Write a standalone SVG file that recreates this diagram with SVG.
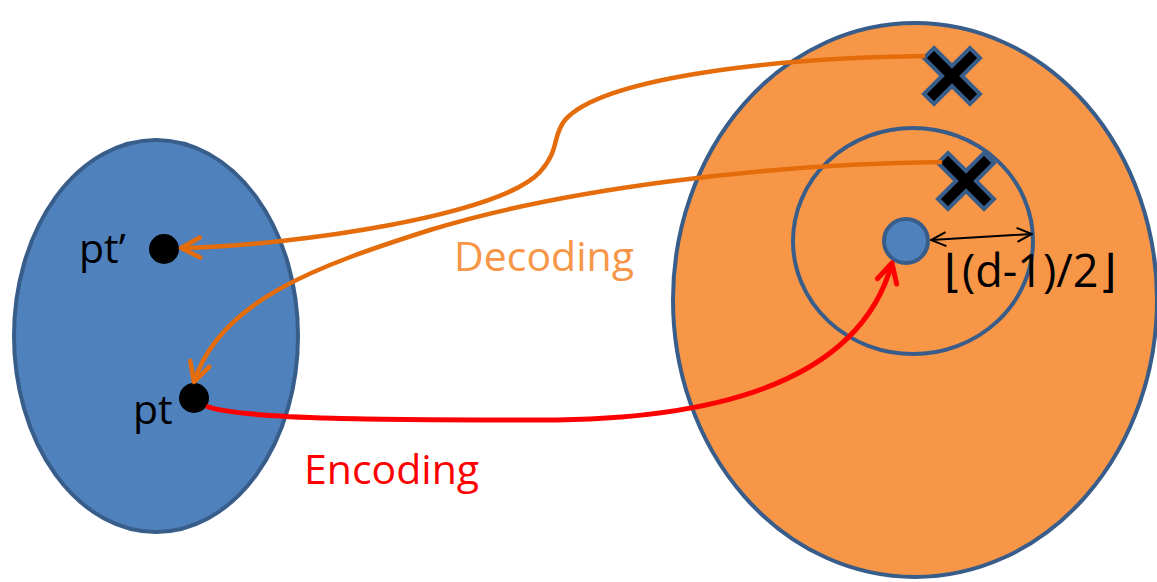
<svg xmlns="http://www.w3.org/2000/svg" width="1157" height="582" viewBox="0 0 1157 582">
  <defs>
    <style>
      .lbl { font-family: "Open Sans", "Liberation Sans", sans-serif; font-size: 41px; }
      .region { stroke: #385D8A; stroke-width: 4; }
      .dot { fill: #000; }
      .cross { fill: #000; stroke: #385D8A; stroke-width: 4; stroke-linejoin: miter; }
      .dec { fill: none; stroke: #E46C0A; stroke-width: 4.5; }
      .enc { fill: none; stroke: #FF0000; stroke-width: 5; }
    </style>
    <marker id="headOrange" viewBox="0 0 26 26" refX="23" refY="13" markerWidth="26" markerHeight="26" markerUnits="userSpaceOnUse" orient="auto">
      <path d="M4 3 L23 13 L4 23" fill="none" stroke="#E46C0A" stroke-width="4.5" stroke-linecap="round" stroke-linejoin="round"/>
    </marker>
    <marker id="headRed" viewBox="0 0 26 26" refX="23" refY="13" markerWidth="26" markerHeight="26" markerUnits="userSpaceOnUse" orient="auto">
      <path d="M4 3 L23 13 L4 23" fill="none" stroke="#FF0000" stroke-width="5" stroke-linecap="round" stroke-linejoin="round"/>
    </marker>
    <marker id="headBlack" viewBox="0 0 20 20" refX="19" refY="10" markerWidth="20" markerHeight="20" markerUnits="userSpaceOnUse" orient="auto-start-reverse">
      <path d="M4 3 L19 10 L4 17" fill="none" stroke="#000" stroke-width="2"/>
    </marker>
    <polygon id="xmark" points="-18,-28 0,-10 18,-28 28,-18 10,0 28,18 18,28 0,10 -18,28 -28,18 -10,0 -28,-18"/>
  </defs>

  <!-- message space -->
  <g id="message-space">
    <ellipse class="region" cx="156" cy="336" rx="142" ry="196" fill="#4F81BD"/>
  </g>

  <!-- code space -->
  <g id="code-space">
    <ellipse class="region" cx="915" cy="300" rx="242" ry="277" fill="#F79646"/>
  </g>

  <!-- decoding radius ball -->
  <g id="decoding-ball">
    <ellipse class="region" cx="913" cy="241" rx="120" ry="113" fill="none"/>
  </g>

  <!-- codeword -->
  <g id="codeword">
    <circle cx="906" cy="241" r="22" fill="#4F81BD" stroke="#385D8A" stroke-width="4"/>
  </g>

  <!-- received words -->
  <g id="received-far">
    <use href="#xmark" class="cross" x="952" y="76"/>
  </g>
  <g id="received-near">
    <use href="#xmark" class="cross" x="966" y="181"/>
  </g>

  <!-- plaintext points -->
  <g id="pt-prime">
    <circle class="dot" cx="164" cy="249" r="15"/>
    <text class="lbl" x="79" y="263">pt’</text>
  </g>
  <g id="pt">
    <circle class="dot" cx="194" cy="398" r="15"/>
    <text class="lbl" x="133" y="424">pt</text>
  </g>

  <!-- connectors -->
  <g id="connectors">
    <path class="dec" d="M925 56 C760 58 600 80 565 120 C552 136 560 150 540 172 C500 215 300 245 181 248" marker-end="url(#headOrange)"/>
    <path class="dec" d="M942 162 C760 164 560 190 430 230 C320 265 220 300 194 382" marker-end="url(#headOrange)"/>
    <path class="enc" d="M206 406 C240 420 400 420 540 420 C720 420 860 380 892 263" marker-end="url(#headRed)"/>
    <path d="M931 240 L1032 234" stroke="#000" stroke-width="2" fill="none" marker-start="url(#headBlack)" marker-end="url(#headBlack)"/>
  </g>

  <!-- labels -->
  <g id="labels">
    <text class="lbl" x="454" y="271" fill="#F79646">Decoding</text>
    <text class="lbl" x="304" y="484" fill="#FF0000">Encoding</text>
    <text class="lbl" x="944" y="287" fill="#000" style="font-size:45px">⌊(d-1)/2⌋</text>
  </g>
</svg>
